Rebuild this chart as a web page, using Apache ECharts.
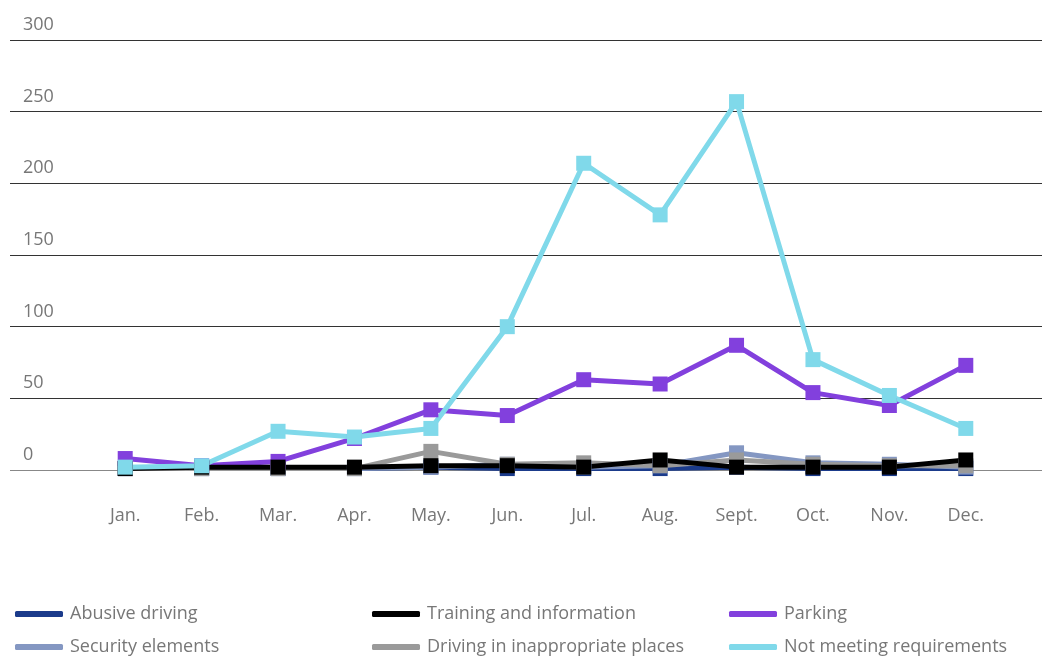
<!DOCTYPE html>
<html>
<head>
<meta charset="utf-8">
<script src="https://cdn.jsdelivr.net/npm/echarts@6/dist/echarts.min.js"></script>
<style>
  html, body { margin: 0; padding: 0; background: #fff; }
  #chart { width: 1042px; height: 656px; }
</style>
</head>
<body>
<div id="chart"></div>
<script>
const months = ['Jan.', 'Feb.', 'Mar.', 'Apr.', 'May.', 'Jun.', 'Jul.', 'Aug.', 'Sept.', 'Oct.', 'Nov.', 'Dec.']
const abusiveDriving = [1, 1, 1, 1, 2, 1, 1, 1, 2, 1, 1, 1]
const securityElements = [1, 1, 1, 1, 2, 4, 2, 3, 12, 5, 4, 2]
const trainingInfo = [1, 2, 2, 2, 3, 3, 2, 7, 2, 2, 2, 7]
const inappropriatePlaces = [1, 1, 1, 1, 13, 4, 5, 3, 7, 4, 3, 3]
const parking = [8, 3, 6, 22, 42, 38, 63, 60, 87, 54, 45, 73]
const notMeeting = [2, 3, 27, 23, 29, 100, 214, 178, 257, 77, 52, 29]

const fontName = 'Open Sans'

// drawing order (later ones on top)
const seriesDefs = [
  { name: 'Abusive driving', color: '#1b3b8b', data: abusiveDriving },
  { name: 'Security elements', color: '#8497c2', data: securityElements },
  { name: 'Driving in inappropriate places', color: '#9a9a9a', data: inappropriatePlaces },
  { name: 'Parking', color: '#8240dd', data: parking },
  { name: 'Training and information', color: '#000000', data: trainingInfo },
  { name: 'Not meeting requirements', color: '#80d9ea', data: notMeeting }
]

function makeSeries() {
  return seriesDefs.map(s => ({
    name: s.name,
    type: 'line',
    xAxisIndex: 1,
    yAxisIndex: 1,
    symbol: 'rect',
    symbolSize: 15,
    lineStyle: { width: 5, color: s.color },
    itemStyle: { color: s.color },
    emphasis: { disabled: true },
    data: s.data
  }))
}

function legendCol(names, left) {
  return {
    orient: 'vertical',
    left: left,
    top: 600,
    height: 120,
    itemGap: 15,
    itemWidth: 48,
    itemHeight: 6,
    icon: 'roundRect',
    textStyle: { color: '#777', fontSize: 18, fontFamily: fontName, padding: [0, 0, 0, 2] },
    data: names
  }
}

const option = {
  animation: false,
  textStyle: { fontFamily: fontName },
  grid: [
    { left: 10, right: 0, top: 40, bottom: 186 },
    { left: 87, right: 38, top: 40, bottom: 186 }
  ],
  legend: [
    legendCol(['Abusive driving', 'Security elements'], 10),
    legendCol(['Training and information', 'Driving in inappropriate places'], 367),
    legendCol(['Parking', 'Not meeting requirements'], 724)
  ],
  xAxis: [
    { gridIndex: 0, type: 'value', show: false, min: 0, max: 1 },
    {
      gridIndex: 1,
      type: 'category',
      boundaryGap: true,
      data: months,
      axisLine: { show: false },
      axisTick: { show: false },
      axisLabel: { color: '#777', fontSize: 18, fontFamily: fontName, margin: 37 }
    }
  ],
  yAxis: [
    {
      gridIndex: 0,
      type: 'value',
      min: 0,
      max: 300,
      interval: 50,
      axisLine: { show: false },
      axisTick: { show: false },
      axisLabel: {
        inside: true,
        margin: 13,
        color: '#777',
        fontSize: 18,
        fontFamily: fontName,
        verticalAlign: 'bottom',
        padding: [0, 0, 6, 0]
      },
      splitLine: { show: true, lineStyle: { color: ['#888', '#333', '#333', '#333', '#333', '#333', '#333'], width: 1 } }
    },
    { gridIndex: 1, type: 'value', min: 0, max: 300, show: false, splitLine: { show: false } }
  ],
  series: makeSeries()
}

const myChart = echarts.init(document.getElementById('chart'), null, { renderer: 'canvas' })
myChart.setOption(option)
</script>
</body>
</html>
